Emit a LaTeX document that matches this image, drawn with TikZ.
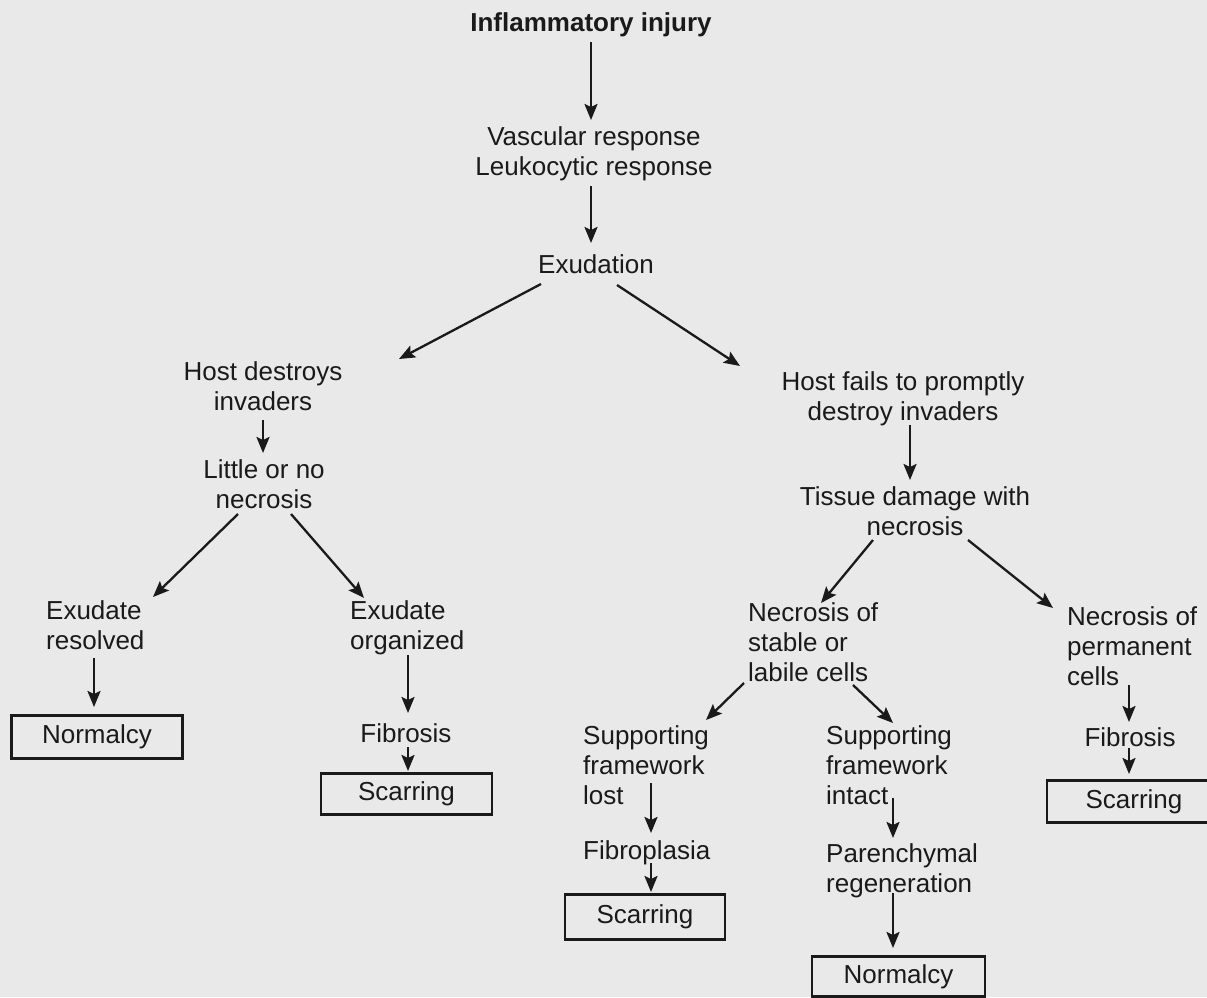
\documentclass[tikz,border=0pt]{standalone}
\usepackage{fontspec}
\setmainfont{Liberation Sans}
\usetikzlibrary{arrows.meta}
\definecolor{bg}{HTML}{E9E9E9}
\definecolor{ink}{HTML}{1A1A1A}
\tikzset{
  lbl/.style={inner sep=0pt, text=ink, font=\fontsize{26}{30}\selectfont},
  cl/.style={lbl, anchor=north, align=center},
  ll/.style={lbl, anchor=north west, align=left},
  boxed/.style={lbl, draw=ink, line width=2.6pt, anchor=north},
  arr/.style={draw=ink, line width=2.3pt, -{Stealth[length=16pt,width=13pt,inset=3pt]}}
}
\begin{document}
\begin{tikzpicture}[x=1pt,y=-1pt]
\fill[bg] (0,0) rectangle (1207,997);
\useasboundingbox (0,0) rectangle (1207,997);

\node[cl, font=\fontsize{26}{30}\selectfont\bfseries] (inj) at (591,12) {Inflammatory injury};
\node[cl] (vasc) at (594,126) {Vascular response\\Leukocytic response};
\node[cl] (exu) at (596,254) {Exudation};
\node[cl] (hostd) at (263,361) {Host destroys\\invaders};
\node[cl] (hostf) at (903,371) {Host fails to promptly\\destroy invaders};
\node[cl] (little) at (264,459) {Little or no\\necrosis};
\node[cl] (tissue) at (915,486) {Tissue damage with\\necrosis};
\node[ll] (exres) at (46,600) {Exudate\\resolved};
\node[ll] (exorg) at (350,600) {Exudate\\organized};
\node[ll] (nstab) at (748,602) {Necrosis of\\stable or\\labile cells};
\node[ll] (nperm) at (1067,606) {Necrosis of\\permanent\\cells};
\node[boxed, minimum width=171pt, minimum height=43pt] (norm1) at (97,714) {Normalcy};
\node[cl] (fib1) at (406,723) {Fibrosis};
\node[boxed, minimum width=171pt, minimum height=41pt] (scar1) at (406.5,772) {Scarring};
\node[ll] (slost) at (583,725) {Supporting\\framework\\lost};
\node[ll] (sint) at (826,725) {Supporting\\framework\\intact};
\node[cl] (fib2) at (1130,727) {Fibrosis};
\node[boxed, minimum width=174pt, minimum height=42pt] (scar2) at (1134,779) {Scarring};
\node[ll] (fibro) at (583,840) {Fibroplasia};
\node[boxed, minimum width=160pt, minimum height=45pt] (scar3) at (645,893) {Scarring};
\node[ll] (paren) at (826,843) {Parenchymal\\regeneration};
\node[boxed, minimum width=173pt, minimum height=40pt] (norm2) at (898.5,955) {Normalcy};

\draw[arr] ([shift={(0,30)}]inj.north) -- ([shift={(-3,-6)}]vasc.north);
\draw[arr] ([shift={(-3,60)}]vasc.north) -- ([shift={(-5,-11)}]exu.north);
\draw[arr] ([shift={(-55,30)}]exu.north) -- ([shift={(136,-2)}]hostd.north);
\draw[arr] ([shift={(21,31)}]exu.north) -- ([shift={(-163,-5)}]hostf.north);
\draw[arr] ([shift={(0,59)}]hostd.north) -- ([shift={(-1,-6)}]little.north);
\draw[arr] ([shift={(7,54)}]hostf.north) -- ([shift={(-5,-6)}]tissue.north);
\draw[arr] ([shift={(-26,55)}]little.north) -- ([shift={(107,-3)}]exres.north west);
\draw[arr] ([shift={(27,55)}]little.north) -- ([shift={(14,-2)}]exorg.north west);
\draw[arr] ([shift={(-42,54)}]tissue.north) -- ([shift={(73,1)}]nstab.north west);
\draw[arr] ([shift={(53,54)}]tissue.north) -- ([shift={(-14,2)}]nperm.north west);
\draw[arr] ([shift={(48,58)}]exres.north west) -- ([shift={(-3,-7)}]norm1.north);
\draw[arr] ([shift={(58,55)}]exorg.north west) -- ([shift={(2,-10)}]fib1.north);
\draw[arr] ([shift={(2,24)}]fib1.north) -- ([shift={(1.5,-1)}]scar1.north);
\draw[arr] ([shift={(-4,81)}]nstab.north west) -- ([shift={(123,-5)}]slost.north west);
\draw[arr] ([shift={(105,83)}]nstab.north west) -- ([shift={(67,-2)}]sint.north west);
\draw[arr] ([shift={(62,79)}]nperm.north west) -- ([shift={(-1,-5)}]fib2.north);
\draw[arr] ([shift={(-1,21)}]fib2.north) -- ([shift={(-5,-5)}]scar2.north);
\draw[arr] ([shift={(68,58)}]slost.north west) -- ([shift={(68,-7)}]fibro.north west);
\draw[arr] ([shift={(68,23)}]fibro.north west) -- ([shift={(6,-1)}]scar3.north);
\draw[arr] ([shift={(67,73)}]sint.north west) -- ([shift={(67,-5)}]paren.north west);
\draw[arr] ([shift={(67,50)}]paren.north west) -- ([shift={(-5.5,-7)}]norm2.north);
\end{tikzpicture}
\end{document}
